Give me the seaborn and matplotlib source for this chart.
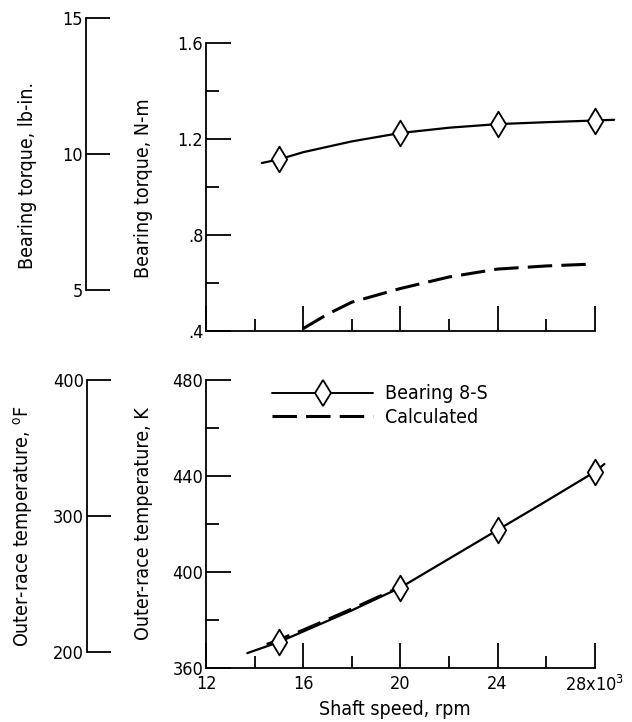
import matplotlib
matplotlib.use("Agg")
import matplotlib.pyplot as plt
from matplotlib.lines import Line2D
from matplotlib.ticker import MultipleLocator, FixedLocator, FuncFormatter
import seaborn as sns

# shaft speed in 10^3 rpm
# bearing 8-S measured torque (N-m), curve through the data
torque_curve_speed = [14.3, 15, 16, 18, 20, 22, 24, 26, 28, 28.8]
torque_curve = [1.10, 1.115, 1.145, 1.19, 1.225, 1.247, 1.262, 1.27, 1.277, 1.28]
# calculated torque (N-m)
torque_calc_speed = [16, 17, 18, 20, 22, 24, 26, 27.7]
torque_calc = [0.41, 0.47, 0.52, 0.577, 0.625, 0.658, 0.671, 0.678]

# outer-race temperature (K)
temp_curve_speed = [13.7, 15, 16, 18, 20, 22, 24, 26, 28, 28.4]
temp_curve = [366.2, 370.8, 375.2, 384.0, 393.5, 405.5, 417.5, 429.5, 441.7, 445.0]
temp_calc_speed = [14.5, 16, 18, 20]
temp_calc = [369.8, 375.8, 384.6, 393.8]

# measured points
point_speed = [15, 20, 24, 28]
point_torque = [1.115, 1.225, 1.262, 1.277]
point_temp = [370.8, 393.5, 417.5, 441.7]

x_tick_labels = ["12", "16", "20", "24", r"28x10$^3$"]

sns.set_style("white")
plt.rcParams["font.family"] = ["DejaVu Sans"]
plt.rcParams["font.stretch"] = "condensed"
plt.rcParams["font.size"] = 14
plt.rcParams["xtick.labelsize"] = 13
plt.rcParams["ytick.labelsize"] = 13
plt.rcParams["text.color"] = "black"
plt.rcParams["axes.labelcolor"] = "black"
plt.rcParams["axes.edgecolor"] = "black"
plt.rcParams["axes.linewidth"] = 1.3

W, H = 632, 722
fig = plt.figure(figsize=(W / 100, H / 100), dpi=100)


def box(x0, x1, ytop, ybot):
    return [x0 / W, 1 - ybot / H, (x1 - x0) / W, (ybot - ytop) / H]


def style_main(ax, ylim, major, minor):
    ax.patch.set_visible(False)
    ax.set_xlim(12, 29)
    ax.set_ylim(*ylim)
    ax.spines[["top", "right"]].set_visible(False)
    ax.spines["bottom"].set_bounds(12, 28)
    ax.xaxis.set_major_locator(MultipleLocator(4))
    ax.xaxis.set_minor_locator(FixedLocator([14, 18, 22, 26]))
    ax.yaxis.set_major_locator(MultipleLocator(major))
    ax.yaxis.set_minor_locator(MultipleLocator(minor))
    ax.tick_params(which="both", left=True, bottom=True, direction="in",
                   width=1.3, color="black", labelcolor="black")
    ax.tick_params(which="major", length=18)
    ax.tick_params(which="minor", length=9)
    ax.tick_params(axis="y", pad=2)
    ax.tick_params(axis="x", pad=5)


def style_side(ax, ylim, ticks):
    ax.patch.set_visible(False)
    ax.set_ylim(*ylim)
    ax.spines[["top", "right", "bottom"]].set_visible(False)
    ax.set_xticks([])
    ax.set_yticks(ticks)
    ax.tick_params(axis="y", left=True, direction="in", length=17, width=1.3,
                   color="black", labelcolor="black", pad=2)


line_kw = dict(color="black", sort=False, estimator=None)
point_kw = dict(marker="d", s=170, color="white", edgecolor="black", linewidth=1.3, zorder=4)

# torque panel
ax1 = fig.add_axes(box(206, 619, 43, 331))
sns.lineplot(x=torque_curve_speed, y=torque_curve, ax=ax1, lw=1.6, **line_kw)
sns.lineplot(x=torque_calc_speed, y=torque_calc, ax=ax1, lw=2.2,
             linestyle=(0, (8, 3)), **line_kw)
sns.scatterplot(x=point_speed, y=point_torque, ax=ax1, **point_kw)
style_main(ax1, (0.4, 1.6), 0.4, 0.2)
ax1.tick_params(labelbottom=False)
ax1.yaxis.set_major_formatter(FuncFormatter(lambda v, p: f"{v:.1f}".lstrip("0")))
ax1.set_ylabel("Bearing torque, N-m")
ax1.yaxis.set_label_coords(-0.128, 0.497)

# temperature panel
ax2 = fig.add_axes(box(206, 619, 380, 668))
sns.lineplot(x=temp_curve_speed, y=temp_curve, ax=ax2, lw=1.6, **line_kw)
sns.lineplot(x=temp_calc_speed, y=temp_calc, ax=ax2, lw=2.2,
             linestyle=(0, (8, 3)), **line_kw)
sns.scatterplot(x=point_speed, y=point_temp, ax=ax2, **point_kw)
style_main(ax2, (360, 480), 40, 20)
ax2.set_xticks([12, 16, 20, 24, 28])
ax2.set_xticklabels(x_tick_labels)
ax2.set_ylabel("Outer-race temperature, K")
ax2.yaxis.set_label_coords(-0.128, 0.503)
ax2.set_xlabel("Shaft speed, rpm")
ax2.xaxis.set_label_coords(0.457, -0.112)

handles = [
    Line2D([], [], color="black", lw=1.4, marker="d", ms=13,
           mfc="white", mec="black", mew=1.3),
    Line2D([], [], color="black", lw=2.2, linestyle=(0, (8, 3))),
]
ax2.legend(handles, ["Bearing 8-S", "Calculated"], loc="upper left",
           bbox_to_anchor=(0.16, 0.985), frameon=False, handlelength=5.2,
           handletextpad=0.6, labelspacing=0.25, borderpad=0,
           borderaxespad=0, numpoints=1)

# english-unit side scales
ax3 = fig.add_axes(box(86, 116, 18, 290))
style_side(ax3, (5, 15), [5, 10, 15])
ax3.set_ylabel("Bearing torque, lb-in.")
ax3.yaxis.set_label_coords(-1.63, 0.42)

ax4 = fig.add_axes(box(87, 117, 380, 652))
style_side(ax4, (200, 400), [200, 300, 400])
ax4.set_ylabel(r"Outer-race temperature, $^{\rm o}$F")
ax4.yaxis.set_label_coords(-1.73, 0.463)

fig.savefig("out.png", dpi=100)
